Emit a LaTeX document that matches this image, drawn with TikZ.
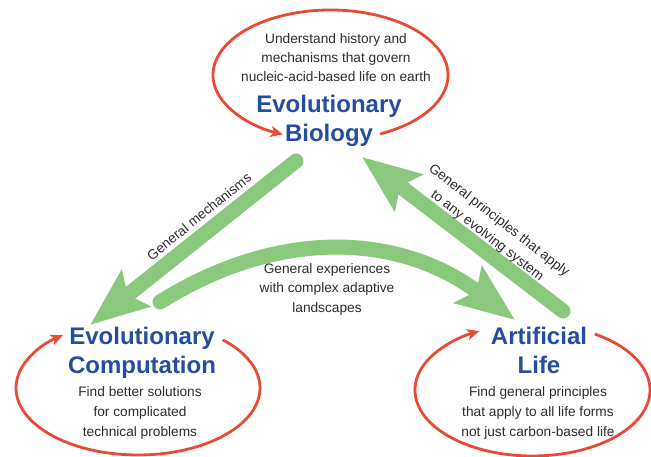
\documentclass[tikz,border=0pt]{standalone}
\usepackage{fontspec}
\setmainfont{Liberation Sans}
\usetikzlibrary{arrows.meta}
\definecolor{evoblue}{RGB}{38,78,160}
\definecolor{evogreen}{RGB}{138,201,125}
\definecolor{evored}{RGB}{232,74,54}
\definecolor{evotext}{RGB}{45,45,45}
\begin{document}
\begin{tikzpicture}[x=1pt,y=1pt,
  small/.style={font=\fontsize{13.7}{16}\selectfont, text=evotext, inner sep=0pt, anchor=base},
  big/.style={font=\bfseries\fontsize{24}{28}\selectfont, text=evoblue, inner sep=0pt, anchor=base},
  flow/.style={draw=evogreen, line width=15pt, line cap=round, -{Stealth[length=58pt,width=45pt,inset=10pt]}},
  loopline/.style={draw=evored, line width=2.8pt, -{Stealth[length=12pt,width=11pt,inset=3pt]}}]
\useasboundingbox (0,0) rectangle (651,457);
\fill[white] (0,0) rectangle (651,457);

% green connectors
\coordinate (gmS) at (296,296);
\coordinate (gmE) at (90,132);
\coordinate (gpS) at (563,146);
\coordinate (gpE) at (362,300);
\coordinate (geS) at (160,155);
\coordinate (geE) at (515,137);
\draw[flow] (gmS) -- (gmE);
\draw[flow] (gpS) -- (gpE);
\draw[flow] (geS) .. controls (281,230.5) and (401,223) .. (geE);

% red loops
\draw[loopline] (330.5,382) ++(-65:117.5 and 65)
  arc[start angle=-65, end angle=246, x radius=117.5, y radius=65];
\draw[loopline] (138,69) ++(46:122 and 67)
  arc[start angle=46, end angle=-232, x radius=122, y radius=67];
\draw[loopline] (532.5,67) ++(58:117.5 and 66)
  arc[start angle=58, end angle=-243, x radius=117.5, y radius=66];

% Evolutionary Biology
\node[small] (eb1) at (336,413.5) {Understand history and};
\node[small] (eb2) at (336,394.2) {mechanisms that govern};
\node[small] (eb3) at (336,375) {nucleic-acid-based life on earth};
\node[big] (eb4) at (329,344) {Evolutionary};
\node[big] (eb5) at (329,315) {Biology};

% Evolutionary Computation
\node[big] (ec1) at (142,112) {Evolutionary};
\node[big] (ec2) at (142,83) {Computation};
\node[small] (ec3) at (140,60) {Find better solutions};
\node[small] (ec4) at (140,40) {for complicated};
\node[small] (ec5) at (140,20.3) {technical problems};

% Artificial Life
\node[big] (al1) at (539,112) {Artificial};
\node[big] (al2) at (539,83) {Life};
\node[small] (al3) at (538,60) {Find general principles};
\node[small] (al4) at (538,40) {that apply to all life forms};
\node[small] (al5) at (538,20.3) {not just carbon-based life};

% connector labels
\node[small] (mx1) at (327,183) {General experiences};
\node[small] (mx2) at (327,164) {with complex adaptive};
\node[small] (mx3) at (327,144.3) {landscapes};
\node[small, anchor=center, rotate=39] (mm) at (199,240.5) {General mechanisms};
\node[small, anchor=center, rotate=-37.8, align=center,
      font=\fontsize{13.7}{19.3}\selectfont] (mp) at (493,228.6)
  {General principles that apply\\to any evolving system};
\end{tikzpicture}
\end{document}
